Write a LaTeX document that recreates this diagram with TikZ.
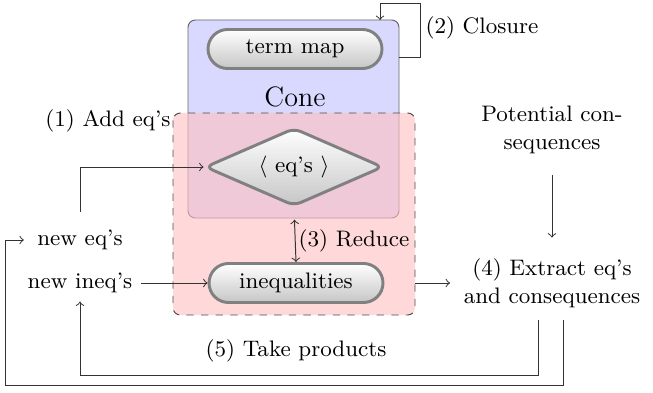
\documentclass[tikz,border=0pt]{standalone}
\usetikzlibrary{shapes.misc,shapes.geometric}
\tikzset{
	pill/.style={rounded rectangle, draw=gray, line width=1.2pt, top color=white, bottom color=gray!45, minimum width=78pt, minimum height=16pt},
	gem/.style={diamond, aspect=2.3, draw=gray, line width=1.2pt, rounded corners=3pt, top color=white, bottom color=gray!45, minimum width=73pt, minimum height=32pt, inner sep=0pt},
	conebox/.style={draw=black!60, fill=blue!15, rounded corners=3pt},
	redbox/.style={draw=black!70, dashed, fill=red!25, fill opacity=0.6, rounded corners=3pt},
	link/.style={black!80, thin}
}
\begin{document}
\begin{tikzpicture}[x=0.41pt,y=-0.41pt, font=\fontsize{9.2}{11.5}\selectfont]
		\useasboundingbox (0,0) rectangle (653,392);
		% cone
		\draw[conebox] (188,20) rectangle (399,218);
		\node[pill] (T)  at (295,49) {term map};
		\node (C)  at (295,97) {\fontsize{11.5}{13}\selectfont Cone};
		% reduction
		\draw[redbox] (173,113) rectangle (415,315);
		\node[gem] (D)  at (294,167) {$\langle$ eq's $\rangle$};
		\node[pill] (I)  at (296,283) {inequalities};
		\node (NE) at (80,240) {new eq's};
		\node (NI) at (80,283) {new ineq's};
		\node[align=center] (X)  at (552,283) {(4) Extract eq's\\and consequences};
		\node[align=center] (P)  at (552,130) {Potential con-\\sequences};
		\coordinate (R)  at (415,283);
		\coordinate (B)  at (399,57);
		\coordinate (X1) at (538,320);
		\coordinate (X2) at (563,320);
		% labels
		\node (L1) at (108,121) {(1) Add eq's};
		\node (L2) at (482,28) {(2) Closure};
		\node (L3) at (354,241) {(3) Reduce};
		\node (L5) at (296,351) {(5) Take products};
		% connectors
		\draw[link, ->, shorten <=4pt] (NE.north) |- (D.west);
		\draw[link, ->] (B) -- (420,57) -- (420,3) -- (380,3) -- (380,20);
		\draw[link, <->, shorten <=5pt] (D.south) -- (I.north);
		\draw[link, ->] (NI) -- (I);
		\draw[link, ->] (R) -- (450,283);
		\draw[link, ->, shorten <=5pt, shorten >=5pt] (P) -- (X);
		\draw[link, ->] (X1) -- (538,375) -| (NI.south);
		\draw[link, ->, shorten >=2pt] (X2) -- (563,385) -- (5,385) -- (5,240) -- (NE.west);
	\end{tikzpicture}
\end{document}
